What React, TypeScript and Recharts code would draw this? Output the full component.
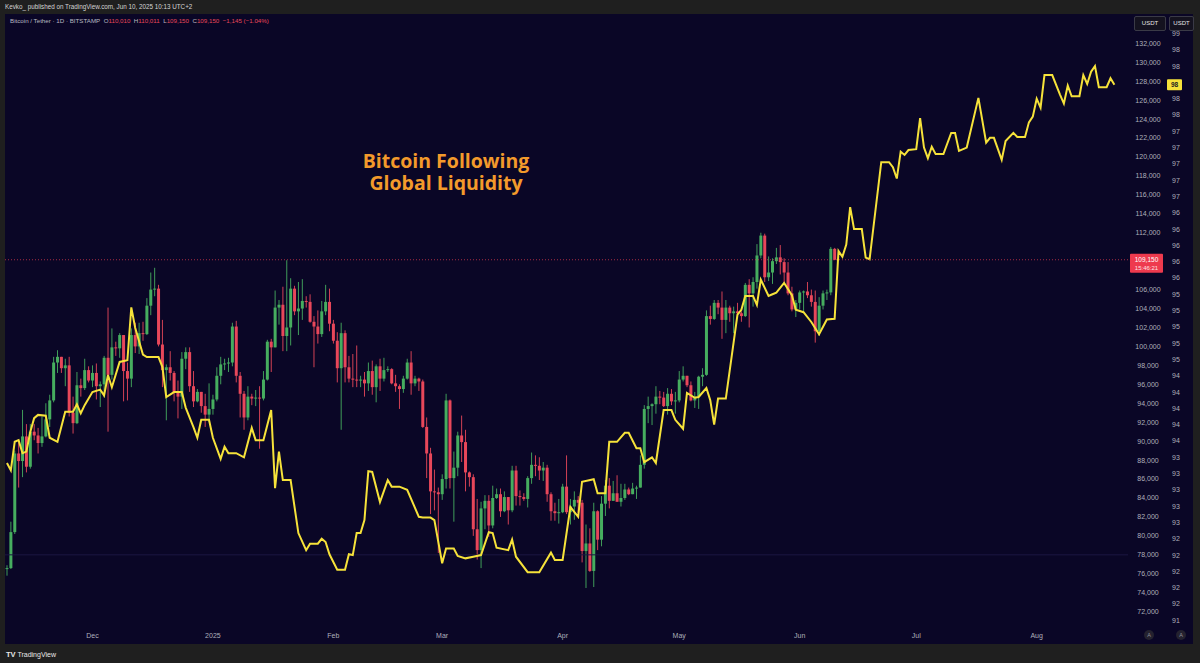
import React from 'react';
import { ComposedChart, Bar, Line, XAxis, YAxis, ReferenceLine } from 'recharts';

// ---------- categories (daily, index 0 = 9 Nov 2024) ----------
const DAY_COUNT = 289;
const monthTicks = [22, 53, 84, 112, 143, 173, 204, 234, 265];
const monthLabels = ['Dec', '2025', 'Feb', 'Mar', 'Apr', 'May', 'Jun', 'Jul', 'Aug'];

// ---------- axis ticks ----------
const priceTicks = [72, 74, 76, 78, 80, 82, 84, 86, 88, 90, 92, 94, 96, 98, 100, 102, 104, 106, 108, 110, 112, 114, 116, 118, 120, 122, 124, 126, 128, 130, 132];
const liqTicks = [91.8, 92.0, 92.2, 92.4, 92.6, 92.8, 93.0, 93.2, 93.4, 93.6, 93.8, 94.0, 94.2, 94.4, 94.6, 94.8, 95.0, 95.2, 95.4, 95.6, 95.8, 96.0, 96.2, 96.4, 96.6, 96.8, 97.0, 97.2, 97.4, 97.6, 97.8, 98.0, 98.2, 98.4, 98.6, 98.8, 99.0];
const priceDomain = [70.91, 135.09];
const liqDomain = [91.779, 99.239];

// ---------- BTC/USDT daily candles [open, high, low, close] in thousands ----------
const btcOHLC: number[][] = [
  [76.5, 76.9, 75.8, 76.6], [76.6, 81.5, 76.5, 80.4], [80.4, 89.0, 80.2, 88.7], [88.7, 89.9, 85.1, 87.9],
  [87.9, 93.3, 86.2, 90.5], [90.5, 91.8, 86.7, 87.3], [87.3, 91.8, 87.1, 91.0], [91.0, 91.8, 90.1, 90.6],
  [90.6, 91.4, 88.7, 89.8], [89.8, 92.6, 89.4, 90.5], [90.5, 94.0, 90.4, 92.3], [92.3, 94.9, 91.5, 94.3],
  [94.3, 98.9, 94.1, 98.3], [98.3, 99.6, 97.2, 98.9], [98.9, 98.9, 97.2, 97.7], [97.7, 98.7, 95.8, 98.0],
  [98.0, 98.9, 92.6, 93.0], [93.0, 94.7, 90.8, 91.9], [91.9, 97.3, 91.8, 95.9], [95.9, 96.6, 94.7, 95.6],
  [95.6, 98.7, 95.4, 97.5], [97.5, 97.9, 96.2, 96.4],
  // Dec
  [96.4, 98.0, 95.7, 97.2], [97.2, 98.2, 94.4, 95.8], [95.8, 96.3, 93.6, 96.0], [96.0, 99.0, 94.6, 98.8],
  [98.8, 104.1, 91.0, 97.0], [97.0, 101.9, 96.5, 99.9], [99.9, 100.5, 99.0, 99.8], [99.8, 101.4, 98.8, 101.2],
  [101.2, 101.2, 94.2, 97.4], [97.4, 98.3, 94.3, 96.6], [96.6, 101.9, 95.7, 101.2], [101.2, 102.5, 99.3, 100.0],
  [100.0, 102.5, 99.2, 101.4], [101.4, 102.6, 100.6, 101.3], [101.3, 105.1, 101.2, 104.3], [104.3, 107.8, 103.3, 106.0],
  [106.0, 108.3, 105.3, 106.1], [106.1, 106.5, 100.0, 100.2], [100.2, 102.8, 95.7, 97.5], [97.5, 98.1, 92.2, 97.8],
  [97.8, 99.5, 96.4, 97.2], [97.2, 97.4, 94.2, 95.1], [95.1, 96.4, 92.4, 94.7], [94.7, 99.4, 93.4, 98.7],
  [98.7, 99.9, 97.6, 99.4], [99.4, 99.9, 95.2, 95.8], [95.8, 97.4, 93.6, 94.2], [94.2, 95.5, 94.1, 95.2],
  [95.2, 95.2, 93.0, 93.7], [93.7, 95.0, 91.5, 92.8], [92.8, 96.1, 92.0, 93.4],
  // Jan
  [93.4, 94.9, 92.8, 94.4], [94.4, 97.8, 94.2, 96.9], [96.9, 98.9, 96.0, 98.1], [98.1, 98.7, 97.5, 98.2],
  [98.2, 98.8, 97.3, 98.3], [98.3, 102.5, 97.9, 102.1], [102.1, 102.7, 96.2, 96.9], [96.9, 97.3, 92.5, 95.0],
  [95.0, 95.3, 91.2, 92.5], [92.5, 95.8, 92.2, 94.7], [94.7, 95.0, 93.8, 94.5], [94.5, 95.4, 93.7, 94.6],
  [94.6, 95.8, 89.2, 94.5], [94.5, 97.4, 94.3, 96.5], [96.5, 100.7, 96.4, 100.5], [100.5, 100.8, 97.3, 99.9],
  [99.9, 105.9, 99.9, 104.1], [104.1, 104.9, 102.3, 104.4], [104.4, 106.3, 99.5, 101.1], [101.1, 109.1, 99.5, 102.0],
  [102.0, 107.2, 100.1, 106.1], [106.1, 106.4, 103.3, 103.7], [103.7, 106.8, 101.2, 104.0], [104.0, 107.1, 102.8, 104.8],
  [104.8, 105.3, 104.1, 104.7], [104.7, 105.5, 102.5, 102.6], [102.6, 103.2, 97.8, 102.1], [102.1, 103.8, 100.3, 101.3],
  [101.3, 104.8, 101.0, 103.7], [103.7, 106.5, 103.3, 104.7], [104.7, 106.1, 101.6, 102.4],
  // Feb
  [102.4, 102.8, 100.3, 100.6], [100.6, 101.5, 96.2, 97.7], [97.7, 102.5, 91.2, 101.4], [101.4, 101.7, 96.2, 97.8],
  [97.8, 99.0, 96.2, 96.6], [96.6, 99.2, 95.7, 96.5], [96.5, 100.1, 95.7, 96.4], [96.4, 96.9, 95.7, 96.5],
  [96.5, 97.3, 94.7, 96.1], [96.1, 98.3, 95.3, 97.4], [97.4, 98.5, 94.9, 95.7], [95.7, 98.1, 94.1, 97.9],
  [97.9, 98.7, 95.3, 96.6], [96.6, 98.8, 96.3, 97.5], [97.5, 97.9, 97.3, 97.6], [97.6, 97.7, 96.0, 96.1],
  [96.1, 97.0, 95.2, 95.8], [95.8, 96.0, 93.4, 95.5], [95.5, 96.9, 95.1, 96.6], [96.6, 98.7, 96.5, 98.3],
  [98.3, 99.5, 94.9, 96.1], [96.1, 96.9, 95.8, 96.6], [96.6, 96.7, 95.3, 96.3], [96.3, 96.5, 91.4, 91.5],
  [91.5, 92.5, 86.1, 88.7], [88.7, 89.3, 82.3, 84.7], [84.7, 87.0, 82.7, 84.6], [84.6, 85.1, 78.2, 84.4],
  // Mar
  [84.4, 86.5, 83.8, 86.0], [86.0, 95.0, 85.0, 94.3], [94.3, 94.4, 85.0, 86.1], [86.1, 88.9, 81.5, 87.2],
  [87.2, 91.0, 86.3, 90.6], [90.6, 92.7, 87.8, 89.9], [89.9, 91.2, 84.7, 86.7], [86.7, 86.8, 85.2, 86.2],
  [86.2, 86.5, 80.0, 80.7], [80.7, 83.9, 77.5, 78.5], [78.5, 83.6, 76.6, 82.9], [82.9, 84.3, 80.7, 83.7],
  [83.7, 84.3, 79.9, 81.1], [81.1, 85.3, 80.8, 84.0], [84.0, 85.0, 83.9, 84.4], [84.4, 85.0, 82.0, 82.6],
  [82.6, 84.7, 82.5, 84.1], [84.1, 84.1, 81.2, 82.7], [82.7, 87.4, 82.5, 86.9], [86.9, 87.4, 83.2, 84.2],
  [84.2, 84.8, 83.2, 84.1], [84.1, 84.5, 83.7, 83.9], [83.9, 86.3, 83.0, 86.1], [86.1, 88.8, 85.5, 87.5],
  [87.5, 88.5, 86.3, 87.4], [87.4, 88.3, 85.9, 86.9], [86.9, 87.8, 85.8, 87.2], [87.2, 87.5, 83.6, 84.4],
  [84.4, 84.6, 81.6, 82.6], [82.6, 83.5, 81.6, 82.4], [82.4, 83.9, 81.3, 82.5],
  // Apr
  [82.5, 85.5, 82.4, 85.2], [85.2, 88.5, 82.3, 82.5], [82.5, 83.9, 81.2, 83.1], [83.1, 84.7, 81.7, 83.8],
  [83.8, 84.2, 82.4, 83.5], [83.5, 83.8, 77.2, 78.4], [78.4, 81.2, 74.5, 79.2], [79.2, 80.8, 76.2, 76.3],
  [76.3, 83.5, 74.6, 82.6], [82.6, 82.7, 78.5, 79.6], [79.6, 84.2, 78.9, 83.4], [83.4, 85.9, 82.1, 85.3],
  [85.3, 86.1, 82.9, 83.7], [83.7, 85.8, 83.7, 84.5], [84.5, 86.4, 83.6, 83.6], [83.6, 85.5, 83.1, 84.0],
  [84.0, 85.5, 83.8, 84.9], [84.9, 85.1, 84.3, 84.4], [84.4, 85.6, 84.4, 85.0], [85.0, 85.3, 83.9, 85.1],
  [85.1, 88.5, 85.1, 87.5], [87.5, 93.8, 87.1, 93.4], [93.4, 94.7, 91.9, 93.7], [93.7, 94.0, 91.7, 93.9],
  [93.9, 95.8, 92.9, 94.7], [94.7, 95.3, 93.9, 94.6], [94.6, 95.2, 93.6, 93.7], [93.7, 95.6, 92.8, 95.0],
  [95.0, 95.5, 93.8, 94.2], [94.2, 95.2, 92.9, 94.3],
  // May
  [94.3, 97.4, 94.1, 96.5], [96.5, 97.9, 96.3, 96.9], [96.9, 96.9, 95.7, 95.9], [95.9, 96.3, 94.2, 94.3],
  [94.3, 95.2, 93.5, 94.7], [94.7, 96.9, 93.4, 96.8], [96.8, 97.7, 95.8, 97.0], [97.0, 103.8, 96.9, 103.2],
  [103.2, 104.3, 102.3, 102.9], [102.9, 104.9, 102.8, 104.6], [104.6, 104.9, 103.4, 104.1], [104.1, 105.8, 100.8, 102.8],
  [102.8, 104.9, 101.4, 104.1], [104.1, 104.3, 102.6, 103.5], [103.5, 104.2, 101.4, 103.7], [103.7, 104.6, 103.1, 103.5],
  [103.5, 103.7, 102.6, 103.2], [103.2, 106.7, 103.1, 106.5], [106.5, 107.1, 102.0, 105.6], [105.6, 107.3, 104.2, 106.8],
  [106.8, 110.8, 106.1, 109.6], [109.6, 112.0, 109.3, 111.7], [111.7, 111.9, 106.8, 107.3], [107.3, 109.5, 106.9, 107.8],
  [107.8, 109.3, 106.6, 109.0], [109.0, 110.4, 108.7, 109.4], [109.4, 110.7, 107.6, 108.9], [108.9, 109.3, 106.8, 107.8],
  [107.8, 108.9, 105.4, 105.6], [105.6, 106.3, 103.7, 103.9], [103.9, 104.9, 103.1, 104.6],
  // Jun
  [104.6, 105.9, 103.9, 105.7], [105.7, 105.9, 103.7, 105.8], [105.8, 106.8, 105.1, 105.4], [105.4, 106.0, 104.2, 104.7],
  [104.7, 105.9, 100.4, 101.6], [101.6, 105.2, 101.1, 104.3], [104.3, 105.9, 103.9, 105.6], [105.6, 106.0, 104.9, 105.7],
  [105.7, 110.5, 105.4, 110.3], [110.3, 110.4, 109.1, 109.15],
];

// ---------- Global liquidity line (shifted forward), day index + value ----------
const liqIndex = [
  0, 1, 2, 3, 4, 5, 6, 7, 8, 10, 11, 13, 15, 17, 18, 19, 20, 22, 24, 25, 26, 27, 29, 31, 32, 33, 35, 36, 39, 40,
  41, 43, 45, 46, 48, 49, 50, 52, 53, 55, 56, 57, 59, 61, 63, 64, 66, 68, 69, 70, 71, 73, 75, 77, 78, 80, 81, 82, 83, 85,
  87, 88, 89, 90, 91, 92, 93, 94, 96, 98, 99, 101, 103, 106, 107, 109, 110, 112, 113, 115, 116, 118, 120, 122, 124, 125, 126, 129, 130, 131,
  134, 137, 140, 141, 143, 145, 147, 148, 151, 152, 154, 155, 157, 159, 160, 162, 163, 164, 166, 167, 169, 171, 172, 174, 175, 177, 178, 180, 181, 182,
  183, 185, 188, 189, 190, 192, 193, 194, 196, 197, 198, 200, 202, 203, 205, 207, 209, 211, 213, 214, 215, 216, 217, 218, 220, 221, 222, 225, 227, 228,
  229, 230, 231, 232, 234, 235, 236, 237, 238, 239, 241, 243, 244, 245, 247, 250, 252, 253, 254, 256, 257, 259, 260, 262, 263, 264, 265, 266, 267, 269,
  271, 272, 273, 274, 276, 277, 278, 279, 280, 281, 283, 284, 285,
];
const liqValue = [
  93.73, 93.64, 93.99, 94.01, 93.85, 93.87, 94.11, 94.28, 94.32, 94.31, 94.04, 93.99, 94.36, 94.36, 94.45, 94.34, 94.44, 94.60, 94.63, 94.56, 94.81, 94.66, 94.97, 94.99, 95.64, 95.39, 95.06, 95.03, 95.03, 94.91,
  94.54, 94.60, 94.60, 94.41, 94.17, 94.04, 94.26, 94.26, 94.04, 93.78, 93.93, 93.85, 93.85, 93.80, 94.16, 94.01, 94.01, 94.38, 93.42, 93.87, 93.52, 93.52, 92.87, 92.66, 92.74, 92.74, 92.80, 92.76, 92.61, 92.42,
  92.42, 92.61, 92.60, 92.87, 92.87, 93.03, 93.63, 93.62, 93.25, 93.52, 93.44, 93.44, 93.40, 93.07, 93.06, 93.06, 93.03, 92.50, 92.68, 92.68, 92.59, 92.56, 92.58, 92.60, 92.88, 92.87, 92.69, 92.66, 92.79, 92.58,
  92.39, 92.39, 92.63, 92.54, 92.54, 93.19, 93.07, 93.50, 93.53, 93.36, 93.36, 93.99, 93.99, 94.10, 94.10, 93.91, 93.91, 93.74, 93.80, 93.73, 94.38, 94.38, 94.26, 94.15, 94.59, 94.53, 94.54, 94.65, 94.50, 94.20,
  94.52, 94.52, 95.55, 95.61, 95.78, 95.78, 95.67, 95.98, 95.78, 95.80, 95.82, 95.94, 95.79, 95.61, 95.58, 95.46, 95.31, 95.49, 95.50, 96.33, 96.26, 96.41, 96.87, 96.60, 96.60, 96.25, 96.23, 97.42, 97.42, 97.36,
  97.22, 97.55, 97.51, 97.57, 97.58, 97.96, 97.60, 97.47, 97.61, 97.52, 97.52, 97.78, 97.78, 97.56, 97.60, 98.21, 97.66, 97.72, 97.72, 97.45, 97.68, 97.78, 97.73, 97.73, 97.91, 97.98, 98.20, 98.09, 98.49, 98.49,
  98.25, 98.14, 98.36, 98.23, 98.23, 98.49, 98.38, 98.53, 98.60, 98.34, 98.34, 98.45, 98.37,
];

const CURRENT_PRICE = 109.15;
const HORIZONTAL_LEVEL = 78;

// ---------- styles ----------
const BG = '#0a0626';
const FRAME = '#1f1f1f';
const GREEN = '#46ad5f';
const RED = '#e8475a';
const YELLOW = '#f6e23a';
const AXIS_TEXT = '#aeb0bb';
const FONT = '"Liberation Sans", Arial, sans-serif';

const liqMap = new Map<number, number>();
liqIndex.forEach((k, i) => liqMap.set(k, liqValue[i]));
const lastLiq = liqValue[liqValue.length - 1];

const chartData = Array.from({ length: DAY_COUNT }, (_, k) => {
  const c = btcOHLC[k];
  return {
    k,
    o: c ? c[0] : null,
    h: c ? c[1] : null,
    l: c ? c[2] : null,
    c: c ? c[3] : null,
    range: c ? [c[2], c[1]] : null,
    liq: liqMap.has(k) ? liqMap.get(k) : null,
  };
});

const Candle = (props: any) => {
  const { x, y, width, height, payload } = props;
  if (!payload || payload.o == null || typeof y !== 'number' || isNaN(y)) return <g />;
  const { o, h, l, c } = payload;
  const top = Math.min(y, y + height);
  const span = Math.abs(height);
  const ratio = h - l > 0 ? span / (h - l) : 0;
  const cx = x + width / 2;
  const bodyTop = top + (h - Math.max(o, c)) * ratio;
  const bodyH = Math.max(1, Math.abs(o - c) * ratio);
  const color = c >= o ? GREEN : RED;
  return (
    <g>
      <line x1={cx} x2={cx} y1={top} y2={top + span} stroke={color} strokeWidth={1} strokeOpacity={0.9} />
      <rect x={cx - 1.5} y={bodyTop} width={3} height={bodyH} fill={color} />
    </g>
  );
};

const XTick = (props: any) => {
  const { x, y, payload } = props;
  const idx = monthTicks.indexOf(payload.value);
  if (idx < 0) return <g />;
  return (
    <text x={x} y={y + 16} textAnchor="middle" fontSize={7} fill={AXIS_TEXT} fontFamily={FONT}>
      {monthLabels[idx]}
    </text>
  );
};

const PriceTick = (props: any) => {
  const { x, y, payload } = props;
  // the live price tag covers the label next to it
  if (Math.abs(payload.value - CURRENT_PRICE) < 1.5) return <g />;
  return (
    <text x={x + 20} y={y} dy="0.35em" textAnchor="middle" fontSize={7} fill={AXIS_TEXT} fontFamily={FONT}>
      {(payload.value * 1000).toLocaleString('en-US')}
    </text>
  );
};

const LiqTick = (props: any) => {
  const { x, y, payload } = props;
  // the last-value tag covers the label next to it
  if (Math.abs(payload.value - lastLiq) < 0.1) return <g />;
  return (
    <text x={x + 11} y={y} dy="0.35em" textAnchor="middle" fontSize={7} fill={AXIS_TEXT} fontFamily={FONT}>
      {Math.floor(payload.value + 1e-6)}
    </text>
  );
};

const PriceTag = (props: any) => {
  const vb = props.viewBox || {};
  const x = (vb.x || 0) + (vb.width || 0);
  const y = vb.y || 0;
  return (
    <g>
      <rect x={x + 2} y={y - 6} width={33} height={19} fill="#ee3a4e" rx={1} />
      <text x={x + 18.5} y={y + 2.2} textAnchor="middle" fontSize={6.5} fill="#ffffff" fontFamily={FONT}>
        {(CURRENT_PRICE * 1000).toLocaleString('en-US')}
      </text>
      <text x={x + 18.5} y={y + 10} textAnchor="middle" fontSize={6} fill="#ffe0e4" fontFamily={FONT}>
        15:46:21
      </text>
    </g>
  );
};

const LiqTag = (props: any) => {
  const vb = props.viewBox || {};
  const x = (vb.x || 0) + (vb.width || 0);
  const y = vb.y || 0;
  return (
    <g>
      <rect x={x + 39} y={y - 5.5} width={15} height={11} fill={YELLOW} rx={1} />
      <text x={x + 46.5} y={y} dy="0.35em" textAnchor="middle" fontSize={6.5} fontWeight={700} fill="#222" fontFamily={FONT}>
        {Math.floor(lastLiq)}
      </text>
    </g>
  );
};

const btnStyle: React.CSSProperties = {
  position: 'absolute',
  top: 16,
  height: 13,
  border: '1px solid #3a3a46',
  borderRadius: 2,
  background: '#14121f',
  color: '#e6e6e6',
  fontSize: 6,
  lineHeight: '13px',
  textAlign: 'center',
  fontFamily: FONT,
};

const circleStyle: React.CSSProperties = {
  position: 'absolute',
  top: 630,
  width: 10,
  height: 10,
  borderRadius: 5,
  background: '#24222f',
  color: '#8d8d99',
  fontSize: 5.5,
  lineHeight: '10px',
  textAlign: 'center',
  fontFamily: FONT,
};

const titleStyle: React.CSSProperties = {
  position: 'absolute',
  left: 326,
  width: 240,
  textAlign: 'center',
  color: '#f39a2b',
  fontFamily: '"Open Sans", "Noto Sans", sans-serif',
  fontWeight: 700,
  fontSize: 19.5,
  lineHeight: '20px',
  whiteSpace: 'nowrap',
};

export default function App() {
  return (
    <div
      style={{
        position: 'absolute',
        left: 0,
        top: 0,
        width: 1200,
        height: 663,
        background: FRAME,
        overflow: 'hidden',
        fontFamily: FONT,
      }}
    >
      <div style={{ position: 'absolute', left: 5, top: 3, fontSize: 6.3, lineHeight: '8px', color: '#d4d4d4', whiteSpace: 'nowrap' }}>
        Kevko_ published on TradingView.com, Jun 10, 2025 10:13 UTC+2
      </div>
      <div style={{ position: 'absolute', left: 5, top: 14, width: 1188, height: 630, background: BG }}>
        <ComposedChart width={1188} height={630} data={chartData} margin={{ top: 0, right: 0, bottom: 0, left: 0 }} barCategoryGap={0}>
          <XAxis
            dataKey="k"
            type="category"
            ticks={monthTicks}
            interval={0}
            tick={<XTick />}
            tickLine={false}
            axisLine={false}
            tickSize={0}
            tickMargin={0}
            height={22}
          />
          <YAxis
            yAxisId="b"
            orientation="right"
            type="number"
            domain={liqDomain}
            ticks={liqTicks}
            interval={0}
            allowDataOverflow
            width={28}
            tick={<LiqTick />}
            tickLine={false}
            axisLine={false}
            tickSize={0}
            tickMargin={0}
          />
          <YAxis
            yAxisId="a"
            orientation="right"
            type="number"
            domain={priceDomain}
            ticks={priceTicks}
            interval={0}
            allowDataOverflow
            width={37}
            tick={<PriceTick />}
            tickLine={false}
            axisLine={false}
            tickSize={0}
            tickMargin={0}
          />
          <ReferenceLine yAxisId="a" y={HORIZONTAL_LEVEL} stroke="#1c1742" strokeWidth={1} />
          <Bar yAxisId="a" dataKey="range" shape={(p: any) => <Candle {...p} />} isAnimationActive={false} />
          <Line
            yAxisId="b"
            dataKey="liq"
            type="linear"
            stroke={YELLOW}
            strokeWidth={2}
            dot={false}
            activeDot={false}
            connectNulls
            isAnimationActive={false}
          />
          <ReferenceLine
            yAxisId="a"
            y={CURRENT_PRICE}
            stroke="#d8384c"
            strokeOpacity={0.75}
            strokeDasharray="1 2"
            strokeWidth={1}
            label={<PriceTag />}
          />
          <ReferenceLine yAxisId="b" y={lastLiq} stroke="none" label={<LiqTag />} />
        </ComposedChart>
      </div>

      <div style={{ position: 'absolute', left: 10, top: 17, fontSize: 6.2, lineHeight: '8px', color: '#b8b8c2', whiteSpace: 'nowrap' }}>
        Bitcoin / Tether · 1D · BITSTAMP&nbsp;&nbsp;O<span style={{ color: RED }}>110,010</span>&nbsp;&nbsp;H<span style={{ color: RED }}>110,011</span>&nbsp;&nbsp;L<span style={{ color: RED }}>109,150</span>&nbsp;&nbsp;C<span style={{ color: RED }}>109,150</span>&nbsp;&nbsp;<span style={{ color: RED }}>−1,145 (−1.04%)</span>
      </div>

      <div style={{ ...titleStyle, top: 151 }}>Bitcoin Following</div>
      <div style={{ ...titleStyle, top: 173 }}>Global Liquidity</div>

      <div style={{ ...btnStyle, left: 1134, width: 30 }}>USDT</div>
      <div style={{ ...btnStyle, left: 1169, width: 23 }}>USDT</div>

      <div style={{ ...circleStyle, left: 1144 }}>A</div>
      <div style={{ ...circleStyle, left: 1176 }}>A</div>

      <div style={{ position: 'absolute', left: 6, top: 650, fontSize: 7, lineHeight: '9px', color: '#e8e8e8', whiteSpace: 'nowrap' }}>
        <b style={{ fontSize: 7.5 }}>TV</b> TradingView
      </div>
    </div>
  );
}
